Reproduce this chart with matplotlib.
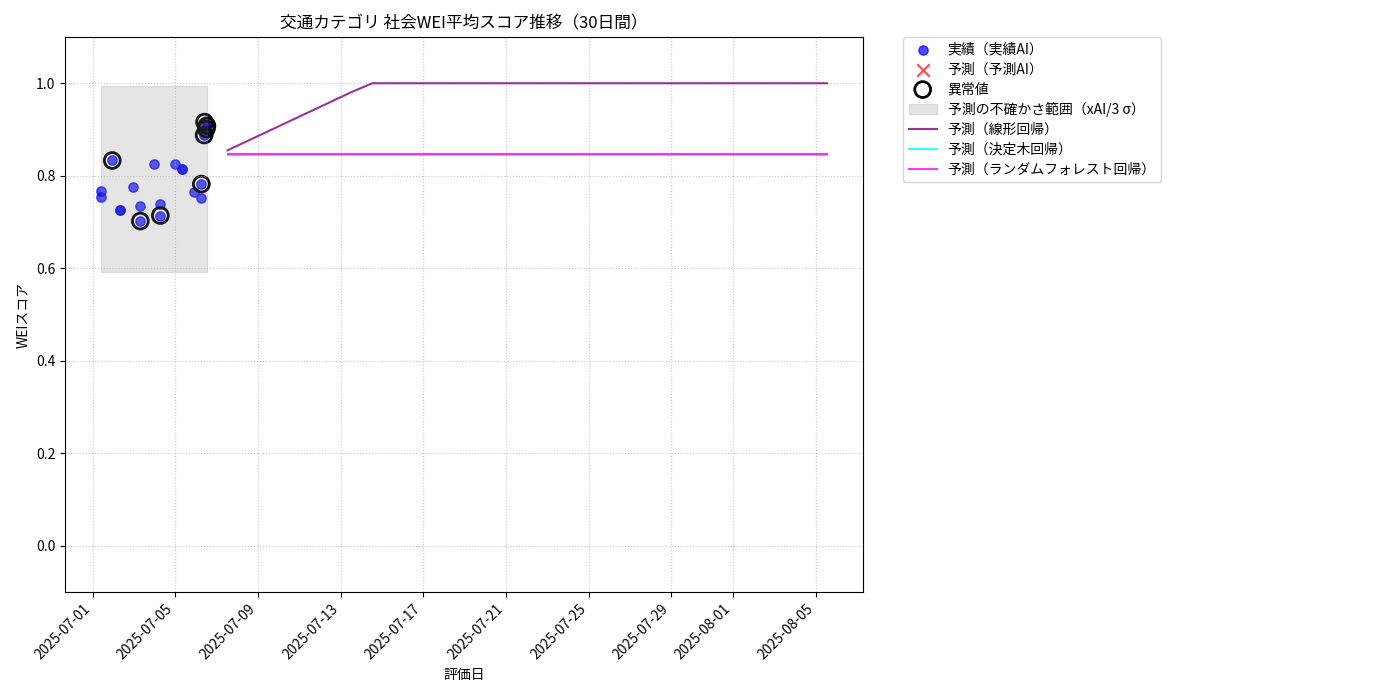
import matplotlib
matplotlib.use("Agg")
import matplotlib.pyplot as plt
import matplotlib.dates as mdates
import numpy as np
import pandas as pd

plt.rcParams['font.family'] = ['Noto Sans CJK JP', 'DejaVu Sans']

# ---- data ----
actual_times = [
    "2025-07-01 10:05", "2025-07-01 10:05", "2025-07-01 22:50", "2025-07-02 07:50",
    "2025-07-02 07:55", "2025-07-02 22:25", "2025-07-03 06:35", "2025-07-03 07:25",
    "2025-07-03 22:50", "2025-07-04 06:35", "2025-07-04 06:40", "2025-07-04 23:15",
    "2025-07-05 07:50", "2025-07-05 07:55", "2025-07-05 22:05", "2025-07-06 06:15",
    "2025-07-06 06:15", "2025-07-06 09:30", "2025-07-06 10:00", "2025-07-06 12:00",
    "2025-07-06 12:45",
]
actual_values = [
    0.766, 0.753, 0.833, 0.726,
    0.726, 0.775, 0.735, 0.702,
    0.825, 0.739, 0.714, 0.825,
    0.815, 0.815, 0.764, 0.782,
    0.751, 0.888, 0.916, 0.901,
    0.908,
]
outlier_flags = [
    False, False, True, False,
    False, False, False, True,
    False, False, True, False,
    False, False, False, True,
    False, True, True, True,
    True,
]
band_upper = 0.9935
band_lower = 0.591

forecast_start = "2025-07-07 12:45"
linear_pred = [0.855, 0.876, 0.897, 0.918, 0.939, 0.960, 0.981, 1.0, 1.0, 1.0,
               1.0, 1.0, 1.0, 1.0, 1.0, 1.0, 1.0, 1.0, 1.0, 1.0,
               1.0, 1.0, 1.0, 1.0, 1.0, 1.0, 1.0, 1.0, 1.0, 1.0]
tree_pred = [0.8445, 0.8445, 0.8445, 0.8445, 0.8445, 0.8445, 0.8445, 0.8445, 0.8445, 0.8445,
             0.8445, 0.8445, 0.8445, 0.8445, 0.8445, 0.8445, 0.8445, 0.8445, 0.8445, 0.8445,
             0.8445, 0.8445, 0.8445, 0.8445, 0.8445, 0.8445, 0.8445, 0.8445, 0.8445, 0.8445]
rf_pred = [0.8465, 0.8465, 0.8465, 0.8465, 0.8465, 0.8465, 0.8465, 0.8465, 0.8465, 0.8465,
           0.8465, 0.8465, 0.8465, 0.8465, 0.8465, 0.8465, 0.8465, 0.8465, 0.8465, 0.8465,
           0.8465, 0.8465, 0.8465, 0.8465, 0.8465, 0.8465, 0.8465, 0.8465, 0.8465, 0.8465]

# ---- derived ----
t_actual = pd.to_datetime(actual_times)
v_actual = np.array(actual_values)
flags = np.array(outlier_flags)
t_fc = pd.date_range(forecast_start, periods=len(linear_pred), freq="D")

fig = plt.figure(figsize=(14, 7), dpi=100)
ax = fig.add_axes([65/1400, 1-592/700, (863.3-65)/1400, (592-37)/700])

ax.scatter(t_actual, v_actual, color='blue', alpha=0.7, s=45, label='実績（実績AI）')
ax.scatter([], [], color='red', alpha=0.7, marker='x', s=80, label='予測（予測AI）')
ax.scatter(t_actual[flags], v_actual[flags], facecolors='none', edgecolors='black',
           s=130, linewidths=2, label='異常値')
ax.fill_between(t_actual, [band_lower]*len(t_actual), [band_upper]*len(t_actual),
                color='gray', alpha=0.2, label='予測の不確かさ範囲（xAI/3 σ）')
ax.plot(t_fc, linear_pred, color='purple', alpha=0.8, lw=1.5, label='予測（線形回帰）')
ax.plot(t_fc, tree_pred, color='cyan', alpha=0.8, lw=1.5, label='予測（決定木回帰）')
ax.plot(t_fc, rf_pred, color='magenta', alpha=0.8, lw=1.5, label='予測（ランダムフォレスト回帰）')

ax.set_ylim(-0.1, 1.1)
ax.set_title('交通カテゴリ 社会WEI平均スコア推移（30日間）', fontsize=12)
ax.set_xlabel('評価日')
ax.set_ylabel('WEIスコア')
ax.grid(True, linestyle=':', alpha=0.7)
ax.xaxis.set_major_formatter(mdates.DateFormatter('%Y-%m-%d'))
plt.setp(ax.get_xticklabels(), rotation=45, ha='right')
ax.legend(loc='upper left', bbox_to_anchor=(1.05, 1), borderaxespad=0., labelspacing=0.42)

fig.savefig('out.png', dpi=100)
